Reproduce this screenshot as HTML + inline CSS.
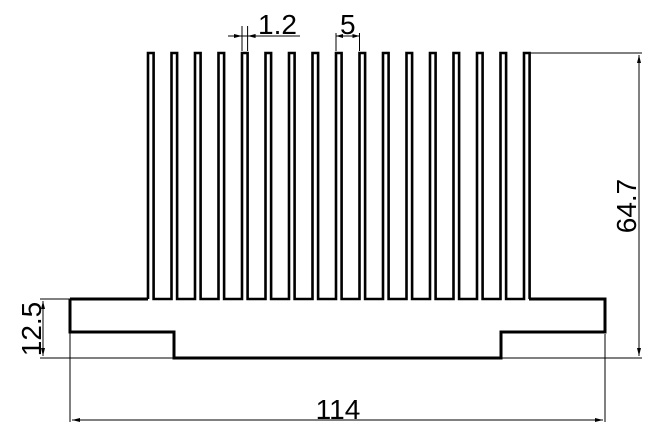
<!DOCTYPE html>
<html><head><style>body{margin:0;background:#fff}svg{display:block}</style></head><body>
<svg width="664" height="443" viewBox="0 0 664 443" xmlns="http://www.w3.org/2000/svg">
<path d="M70,299 H148 M70,299 V332 H174 V358 H501 V332 H605 V299 H529" fill="none" stroke="#000" stroke-width="3"/>
<g fill="none" stroke="#000" stroke-width="2.6">
<path d="
M148,299 V53 H153.6 V299 H171.5 V53 H177.1 V299 H195 V53 H200.6 V299 H218.5 V53 H224.1 V299 H242 V53 H247.6 V299 H265.5 V53 H271.1 V299 H289 V53 H294.6 V299 H312.5 V53 H318.1 V299 H336 V53 H341.6 V299 H359.5 V53 H365.1 V299 H383 V53 H388.6 V299 H406.5 V53 H412.1 V299 H430 V53 H435.6 V299 H453.5 V53 H459.1 V299 H477 V53 H482.6 V299 H500.5 V53 H506.1 V299 H524 V53 H529.6 V299"/>
</g>
<g stroke="#000" stroke-width="1" fill="none">
<path d="M70,301 V422 M605,334 V422 M72,420 H603"/>
<path d="M40,299 H70 M40,358 H501 M43,301 V356"/>
<path d="M529,53 H642 M501,358 H642 M639,55 V356"/>
<path d="M242,51 V26 M247.6,51 V26 M228,36 H300"/>
<path d="M336,51 V33 M359.5,51 V33 M336,36 H359.5"/>
</g>
<g fill="#000">
<path d="M72,420 l8,-2 v4z M603,420 l-8,-2 v4z"/>
<path d="M43,301 l-2,8 h4z M43,356 l-2,-8 h4z"/>
<path d="M639,55 l-2,8 h4z M639,356 l-2,-8 h4z"/>
<path d="M242,36 l-8,-2 v4z M247.6,36 l8,-2 v4z"/>
<path d="M336,36 l7,-2 v4z M359.5,36 l-7,-2 v4z"/>
</g>
<g font-family="Liberation Sans, sans-serif" font-size="28" fill="#000">
<text x="258" y="34">1.2</text>
<text x="340" y="34">5</text>
<text x="338" y="419" text-anchor="middle">114</text>
<text transform="translate(41,329) rotate(-90)" text-anchor="middle">12.5</text>
<text transform="translate(636,206) rotate(-90)" text-anchor="middle">64.7</text>
</g>
</svg>
</body></html>
